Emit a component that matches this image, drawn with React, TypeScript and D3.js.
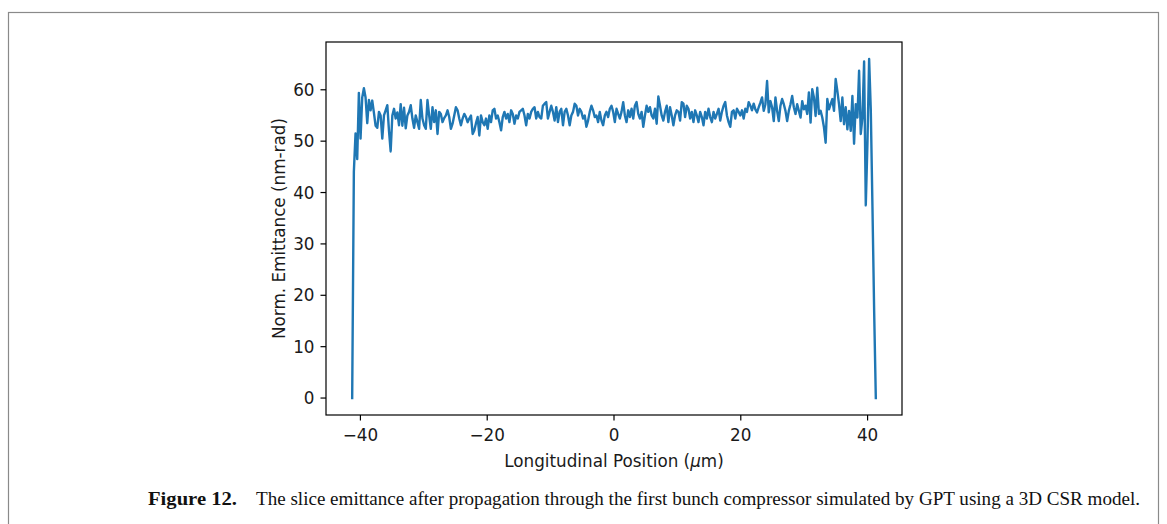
import React from 'react';
import * as d3 from 'd3';

// x tick labels (µm) and y tick labels (nm-rad)
const xTicks = [-40, -20, 0, 20, 40];
const yTicks = [0, 10, 20, 30, 40, 50, 60];

// Slice positions span (µm)
const X_FIRST = -41.3;
const X_LAST = 41.3;

// Slice emittance values (nm-rad), read left to right
const emitHead = [
  0, 44, 51.5, 46.5, 59.4, 50.5, 58.5, 60.3, 58.5, 53.5,
  58, 56, 57.9, 55.5, 53, 52.6, 55.7, 55, 50.5, 55,
  56, 57, 52, 48, 55, 56.3, 54.4, 55.6, 53.1, 57.2,
  53, 56.5, 52.5, 55, 55.7, 57, 54.4, 52.6, 55, 53.7,
  52.4, 58, 54.4, 53.1, 52.4, 58, 55, 52.4, 56.6, 53.7,
  56, 51.4, 55.7, 55.3, 53.7, 54.5, 55, 56, 54.7, 52.4,
  53.4, 55, 56.6, 56, 54.4, 53.1, 54.4, 55.3, 54.7, 53.7,
  54.4, 55, 51.4, 52.1, 53.5, 54.7, 51.1, 55, 53.7,
];
const emitMidLeft = [
  53.1, 54.4, 52.4, 55.0, 53.7, 56.0, 56.3, 54.4, 55.0, 53.7,
  52.1, 54.7, 55.7, 54.4, 55.3, 53.7, 56.0, 55.3, 53.4, 55.0,
  54.4, 55.7, 56.0, 56.3, 55.0, 53.1, 55.3, 54.4, 55.7, 56.3,
  56.6, 54.4, 55.7, 54.7, 54.4, 56.9, 57.3, 57.6, 54.4, 55.7,
  56.9, 55.7, 54.0, 56.6, 53.7, 55.7, 56.3, 53.1, 55.7, 56.3,
  55.0, 53.1, 55.0, 55.7, 57.3, 56.9, 55.0, 56.3, 55.7, 54.4,
  55.0, 52.8, 54.0, 55.7, 56.9, 56.0, 54.7, 55.0, 53.7, 55.7,
  54.0, 53.1, 55.0, 55.7, 54.7, 56.3, 56.9, 55.7, 53.7, 56.3,
  55.3,
];
const emitMidRight = [
  54.4, 55.7, 57.6, 55.0, 53.7, 56.0, 54.7, 56.3, 54.4, 56.9,
  57.6, 55.3, 54.4, 55.7, 52.8, 55.0, 56.9, 55.7, 56.6, 55.0,
  54.4, 56.3, 53.4, 58.7, 56.9, 55.0, 54.0, 55.7, 56.9, 53.7,
  56.6, 55.0, 53.1, 55.0, 56.0, 55.7, 54.0, 57.6, 57.3, 54.7,
  56.9, 56.3, 54.4, 55.7, 53.7, 56.0, 55.0, 53.7, 55.7, 54.7,
  53.1, 55.7, 54.4, 56.3, 54.7, 53.7, 55.7, 54.4, 55.3, 56.3,
  54.0, 55.7, 56.9, 57.6, 55.0, 53.7, 52.8, 55.7, 56.0, 54.4,
  56.3, 55.7, 55.0, 56.0, 54.4, 56.3, 55.7, 57.6, 56.9, 56.0,
  57.3,
];
const emitTail = [
  56.2, 55.6, 56.6, 57.5, 58.5, 55.9, 57.2, 61.7, 55.6, 57.8,
  56.6, 53.9, 58.5, 55.9, 53.9, 56.9, 58.2, 57.2, 55.9, 53.9,
  55.9, 57.2, 58.8, 56.6, 55.3, 57.2, 55.9, 54.6, 57.8, 56.2,
  56.9, 55.3, 59.5, 53.6, 60.1, 58.5, 54.9, 60.4, 55.3, 55.9,
  54.6, 52.7, 49.7, 58.2, 56.2, 57.2, 58.2, 55.9, 62.1, 59.8,
  57.2, 53.9, 58.5, 53.3, 56.6, 52.3, 55.9, 52.0, 58.8, 49.5,
  57.2, 54.6, 63.7, 51.4, 54.6, 65.5, 37.5, 49.7, 66, 56,
  37, 17, 0,
];

const W = 1167;
const H = 524;
const AX = { left: 326, right: 902, top: 42, bottom: 415 };
const FONT = 'DejaVu Sans, sans-serif';
const FS = 16.8;

export default function App() {
  const emittance = [...emitHead, ...emitMidLeft, ...emitMidRight, ...emitTail];
  const pos = d3.scaleLinear().domain([0, emittance.length - 1]).range([X_FIRST, X_LAST]);
  const pts: [number, number][] = emittance.map((v, i) => [pos(i), v]);

  const [x0, x1] = d3.extent(pts, (d) => d[0]) as [number, number];
  const [y0, y1] = d3.extent(pts, (d) => d[1]) as [number, number];
  const xm = (x1 - x0) * 0.05;
  const ym = (y1 - y0) * 0.05;

  const x = d3.scaleLinear().domain([x0 - xm, x1 + xm]).range([AX.left, AX.right]);
  const y = d3.scaleLinear().domain([y0 - ym, y1 + ym]).range([AX.bottom, AX.top]);

  const line = d3
    .line<[number, number]>()
    .x((d) => x(d[0]))
    .y((d) => y(d[1]));

  const tickLen = 5.5;
  const fmt = (t: number) => (t < 0 ? '\u2212' + Math.abs(t) : String(t));

  return (
    <svg
      width={W}
      height={H}
      style={{ position: 'absolute', left: 0, top: 0, background: '#fff' }}
    >
      <rect x={0} y={0} width={W} height={H} fill="#fff" />
      <rect x={8.5} y={12.5} width={1150} height={600} fill="none" stroke="#8a8a8a" strokeWidth={1.2} />

      <defs>
        <clipPath id="plotclip">
          <rect x={AX.left} y={AX.top} width={AX.right - AX.left} height={AX.bottom - AX.top} />
        </clipPath>
      </defs>

      <path
        d={line(pts) || ''}
        fill="none"
        stroke="#1f77b4"
        strokeWidth={2.4}
        strokeLinejoin="round"
        strokeLinecap="square"
        clipPath="url(#plotclip)"
      />

      <rect
        x={AX.left}
        y={AX.top}
        width={AX.right - AX.left}
        height={AX.bottom - AX.top}
        fill="none"
        stroke="#000"
        strokeWidth={1.2}
      />

      {xTicks.map((t) => (
        <g key={'x' + t}>
          <line x1={x(t)} x2={x(t)} y1={AX.bottom} y2={AX.bottom + tickLen} stroke="#000" strokeWidth={1.2} />
          <text x={x(t)} y={441} textAnchor="middle" fontFamily={FONT} fontSize={FS} fill="#1a1a1a">
            {fmt(t)}
          </text>
        </g>
      ))}

      {yTicks.map((t) => (
        <g key={'y' + t}>
          <line x1={AX.left - tickLen} x2={AX.left} y1={y(t)} y2={y(t)} stroke="#000" strokeWidth={1.2} />
          <text x={AX.left - tickLen - 6} y={y(t) + 6.1} textAnchor="end" fontFamily={FONT} fontSize={FS} fill="#1a1a1a">
            {fmt(t)}
          </text>
        </g>
      ))}

      <text x={x(0)} y={467} textAnchor="middle" fontFamily={FONT} fontSize={FS} fill="#1a1a1a">
        Longitudinal Position (<tspan fontStyle="italic">μ</tspan>m)
      </text>

      <text
        transform={`translate(285, ${(AX.top + AX.bottom) / 2}) rotate(-90)`}
        textAnchor="middle"
        fontFamily={FONT}
        fontSize={FS}
        fill="#1a1a1a"
      >
        Norm. Emittance (nm-rad)
      </text>

      <text x={148} y={505} fontFamily="Liberation Serif, serif" fontSize={18.5} fontWeight="bold" fill="#111" textLength={89} lengthAdjust="spacingAndGlyphs">
        Figure 12.
      </text>
      <text x={256} y={505} fontFamily="Liberation Serif, serif" fontSize={18.5} fill="#111" textLength={884} lengthAdjust="spacingAndGlyphs">
        The slice emittance after propagation through the first bunch compressor simulated by GPT using a 3D CSR model.
      </text>
    </svg>
  );
}
